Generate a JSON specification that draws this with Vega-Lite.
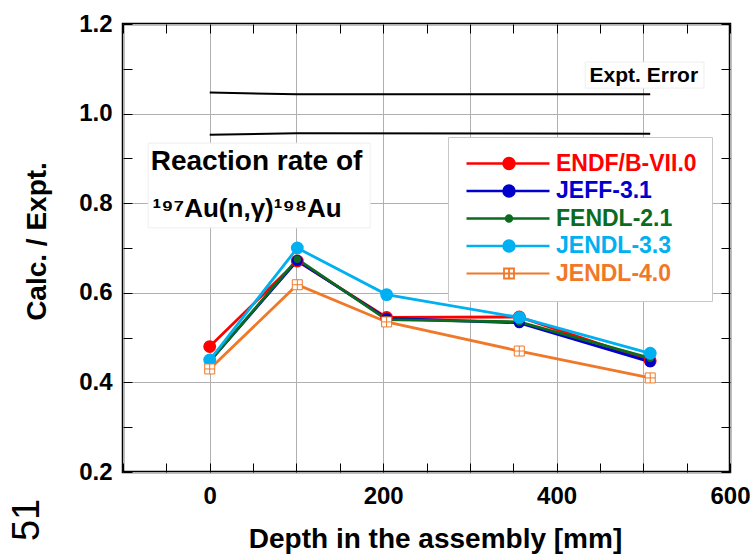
{
  "$schema": "https://vega.github.io/schema/vega-lite/v6.json",
  "width": 607,
  "height": 448,
  "autosize": {"type": "none"},
  "padding": {"left": 123, "top": 24, "right": 22, "bottom": 87},
  "background": "white",
  "config": {
    "view": {"stroke": "black", "strokeWidth": 2.5},
    "font": "Liberation Sans"
  },
  "datasets": {
    "main": [
      {"series": "ENDF/B-VII.0", "x": 0, "y": 0.480},
      {"series": "ENDF/B-VII.0", "x": 101, "y": 0.671},
      {"series": "ENDF/B-VII.0", "x": 204, "y": 0.545},
      {"series": "ENDF/B-VII.0", "x": 357, "y": 0.546},
      {"series": "ENDF/B-VII.0", "x": 508, "y": 0.448},
      {"series": "JEFF-3.1", "x": 0, "y": 0.447},
      {"series": "JEFF-3.1", "x": 101, "y": 0.672},
      {"series": "JEFF-3.1", "x": 204, "y": 0.543},
      {"series": "JEFF-3.1", "x": 357, "y": 0.533},
      {"series": "JEFF-3.1", "x": 508, "y": 0.446},
      {"series": "FENDL-2.1", "x": 0, "y": 0.447},
      {"series": "FENDL-2.1", "x": 101, "y": 0.675},
      {"series": "FENDL-2.1", "x": 204, "y": 0.540},
      {"series": "FENDL-2.1", "x": 357, "y": 0.535},
      {"series": "FENDL-2.1", "x": 508, "y": 0.454},
      {"series": "JENDL-3.3", "x": 0, "y": 0.450},
      {"series": "JENDL-3.3", "x": 101, "y": 0.700},
      {"series": "JENDL-3.3", "x": 204, "y": 0.596},
      {"series": "JENDL-3.3", "x": 357, "y": 0.545},
      {"series": "JENDL-3.3", "x": 508, "y": 0.465},
      {"series": "JENDL-4.0", "x": 0, "y": 0.430},
      {"series": "JENDL-4.0", "x": 101, "y": 0.618},
      {"series": "JENDL-4.0", "x": 204, "y": 0.535},
      {"series": "JENDL-4.0", "x": 357, "y": 0.470},
      {"series": "JENDL-4.0", "x": 508, "y": 0.410}
    ],
    "err": [
      {"bound": "upper", "x": 0, "y": 1.047},
      {"bound": "upper", "x": 100, "y": 1.043},
      {"bound": "upper", "x": 508, "y": 1.043},
      {"bound": "lower", "x": 0, "y": 0.953},
      {"bound": "lower", "x": 100, "y": 0.956},
      {"bound": "lower", "x": 508, "y": 0.955}
    ],
    "labels": [
      {"t": "label"}
    ]
  },
  "resolve": {"axis": {"x": "independent", "y": "independent"}},
  "layer": [
    {
      "data": {"name": "labels"},
      "mark": {"type": "rect", "fill": "white", "stroke": "#eeeeee", "strokeWidth": 1},
      "encoding": {
        "x": {
          "datum": -71, "type": "quantitative",
          "scale": {"domain": [-100, 600], "nice": false, "zero": false},
          "axis": {
            "orient": "bottom",
            "offset": -9,
            "values": [-100, -50, 0, 50, 100, 150, 200, 250, 300, 350, 400, 450, 500, 550, 600],
            "labelExpr": "datum.value % 200 === 0 ? datum.label : ''",
            "labelFont": "Liberation Sans",
            "labelFontWeight": "bold",
            "labelFontSize": 24,
            "labelColor": "black",
            "labelPadding": 12,
            "labelFlush": false,
            "labelOverlap": false,
            "domain": false,
            "grid": true,
            "gridColor": "#b0b0b0",
            "gridWidth": 1,
            "gridOpacity": {"expr": "datum.value % 100 === 0 ? 1 : 0"},
            "ticks": true,
            "tickSize": 9,
            "tickColor": "black",
            "tickWidth": 1,
            "title": "Depth in the assembly [mm]",
            "titleFont": "Liberation Sans",
            "titleFontWeight": "bold",
            "titleFontSize": 28,
            "titleColor": "black",
            "titleX": 312,
            "titleY": 84,
            "titleAlign": "center",
            "titleBaseline": "alphabetic"
          }
        },
        "x2": {"datum": 185},
        "y": {
          "datum": 0.934, "type": "quantitative",
          "scale": {"domain": [0.2, 1.2], "nice": false, "zero": false},
          "axis": {
            "orient": "left",
            "offset": -9,
            "values": [0.2, 0.3, 0.4, 0.5, 0.6, 0.7, 0.8, 0.9, 1.0, 1.1, 1.2],
            "labelExpr": "round(datum.value * 10) % 2 === 0 ? format(datum.value, '.1f') : ''",
            "labelFont": "Liberation Sans",
            "labelFontWeight": "bold",
            "labelFontSize": 24,
            "labelColor": "black",
            "labelPadding": 11,
            "labelFlush": false,
            "labelOverlap": false,
            "domain": false,
            "grid": true,
            "gridColor": "#b0b0b0",
            "gridWidth": 1,
            "gridOpacity": {"expr": "round(datum.value * 10) % 2 === 0 ? 1 : 0"},
            "ticks": true,
            "tickSize": 9,
            "tickColor": "black",
            "tickWidth": 1,
            "title": "Calc. / Expt.",
            "titleFont": "Liberation Sans",
            "titleFontWeight": "bold",
            "titleFontSize": 28,
            "titleColor": "black",
            "titleX": -87,
            "titleY": 217,
            "titleAngle": -90,
            "titleAlign": "center",
            "titleBaseline": "alphabetic"
          }
        },
        "y2": {"datum": 0.745}
      }
    },
    {
      "data": {"name": "err"},
      "mark": {"type": "line", "color": "black", "strokeWidth": 2},
      "encoding": {
        "x": {
          "field": "x", "type": "quantitative",
          "axis": {
            "orient": "top",
            "offset": -9,
            "values": [-100, -50, 0, 50, 100, 150, 200, 250, 300, 350, 400, 450, 500, 550, 600],
            "labels": false, "domain": false, "grid": false,
            "ticks": true, "tickSize": 9, "tickColor": "black", "tickWidth": 1,
            "title": null
          }
        },
        "y": {
          "field": "y", "type": "quantitative",
          "axis": {
            "orient": "right",
            "offset": -9,
            "values": [0.2, 0.3, 0.4, 0.5, 0.6, 0.7, 0.8, 0.9, 1.0, 1.1, 1.2],
            "labels": false, "domain": false, "grid": false,
            "ticks": true, "tickSize": 9, "tickColor": "black", "tickWidth": 1,
            "title": null
          }
        },
        "detail": {"field": "bound", "type": "nominal"}
      }
    },
    {
      "data": {"name": "labels"},
      "mark": {"type": "rect", "fill": "white", "stroke": "#eeeeee", "strokeWidth": 1},
      "encoding": {
        "x": {"datum": 433, "type": "quantitative", "axis": null},
        "x2": {"datum": 570},
        "y": {"datum": 1.115, "type": "quantitative", "axis": null},
        "y2": {"datum": 1.057}
      }
    },
    {
      "data": {"name": "main"},
      "mark": {"type": "line", "strokeWidth": 2.8},
      "encoding": {
        "x": {"field": "x", "type": "quantitative", "axis": null},
        "y": {"field": "y", "type": "quantitative", "axis": null},
        "color": {
          "field": "series", "type": "nominal",
          "scale": {
            "domain": ["ENDF/B-VII.0", "JEFF-3.1", "FENDL-2.1", "JENDL-3.3", "JENDL-4.0"],
            "range": ["#ff0000", "#0000cc", "#0b6b1e", "#00b0f0", "#f07828"]
          },
          "legend": {
            "orient": "none",
            "legendX": 325,
            "legendY": 113,
            "title": null,
            "padding": 15,
            "strokeColor": "#c8c8c8",
            "fillColor": "white",
            "symbolSize": 400,
            "symbolStrokeWidth": 2.5,
            "labelFont": "Liberation Sans",
            "labelFontWeight": "bold",
            "labelFontSize": 23,
            "labelOffset": 70,
            "rowPadding": 3.5,
            "encode": {
              "symbols": {
                "update": {
                  "shape": {"signal": "datum.value === 'FENDL-2.1' ? 'M-0.8,0H7.5M3.15,0A0.3,0.3,0,1,0,3.75,0A0.3,0.3,0,1,0,3.15,0Z' : datum.value === 'JENDL-4.0' ? 'M-0.8,0H2.95M3.95,0H7.5M2.95,-0.5H3.95V0.5H2.95ZM3.45,-0.5V0.5M2.95,0H3.95' : 'M-0.8,0H7.5M2.9,0A0.55,0.55,0,1,0,4.0,0A0.55,0.55,0,1,0,2.9,0Z'"},
                  "size": {"value": 400},
                  "fill": {"signal": "datum.value === 'JENDL-4.0' ? 'white' : scale('color', datum.value)"},
                  "fillOpacity": {"value": 1},
                  "stroke": {"signal": "scale('color', datum.value)"},
                  "strokeOpacity": {"value": 1},
                  "strokeWidth": {"signal": "datum.value === 'JENDL-4.0' ? 1.8 : 2.5"}
                }
              },
              "labels": {
                "update": {
                  "fill": {"signal": "scale('color', datum.value)"}
                }
              }
            }
          }
        }
      }
    },
    {
      "data": {"name": "main"},
      "transform": [{"filter": {"field": "series", "equal": "ENDF/B-VII.0"}}],
      "mark": {"type": "point", "shape": "circle", "filled": true, "size": 165, "color": "#ff0000", "opacity": 1},
      "encoding": {
        "x": {"field": "x", "type": "quantitative", "axis": null},
        "y": {"field": "y", "type": "quantitative", "axis": null}
      }
    },
    {
      "data": {"name": "main"},
      "transform": [{"filter": {"field": "series", "equal": "JEFF-3.1"}}],
      "mark": {"type": "point", "shape": "circle", "filled": true, "size": 120, "color": "#0000cc", "opacity": 1},
      "encoding": {
        "x": {"field": "x", "type": "quantitative", "axis": null},
        "y": {"field": "y", "type": "quantitative", "axis": null}
      }
    },
    {
      "data": {"name": "main"},
      "transform": [{"filter": {"field": "series", "equal": "FENDL-2.1"}}],
      "mark": {"type": "point", "shape": "circle", "filled": true, "size": 55, "color": "#0b6b1e", "opacity": 1},
      "encoding": {
        "x": {"field": "x", "type": "quantitative", "axis": null},
        "y": {"field": "y", "type": "quantitative", "axis": null}
      }
    },
    {
      "data": {"name": "main"},
      "transform": [{"filter": {"field": "series", "equal": "JENDL-3.3"}}],
      "mark": {"type": "point", "shape": "circle", "filled": true, "size": 165, "color": "#00b0f0", "opacity": 1},
      "encoding": {
        "x": {"field": "x", "type": "quantitative", "axis": null},
        "y": {"field": "y", "type": "quantitative", "axis": null}
      }
    },
    {
      "data": {"name": "main"},
      "transform": [{"filter": {"field": "series", "equal": "JENDL-4.0"}}],
      "mark": {"type": "point", "shape": "M-1,-1H1V1H-1ZM0,-1V1M-1,0H1", "filled": false, "size": 100, "fill": "white", "fillOpacity": 1, "stroke": "#f07828", "strokeWidth": 1, "opacity": 1},
      "encoding": {
        "x": {"field": "x", "type": "quantitative", "axis": null},
        "y": {"field": "y", "type": "quantitative", "axis": null}
      }
    },
    {
      "data": {"name": "labels"},
      "mark": {"type": "text", "align": "left", "baseline": "alphabetic", "font": "Liberation Sans", "fontWeight": "bold", "fontSize": 28, "color": "black"},
      "encoding": {
        "x": {"datum": -68, "type": "quantitative", "axis": null},
        "y": {"datum": 0.874, "type": "quantitative", "axis": null},
        "text": {"value": "Reaction rate of"}
      }
    },
    {
      "data": {"name": "labels"},
      "mark": {"type": "text", "align": "left", "baseline": "alphabetic", "font": "Liberation Sans", "fontWeight": "bold", "fontSize": 26, "color": "black"},
      "encoding": {
        "x": {"datum": -66, "type": "quantitative", "axis": null},
        "y": {"datum": 0.769, "type": "quantitative", "axis": null},
        "text": {"value": "¹⁹⁷Au(n,γ)¹⁹⁸Au"}
      }
    },
    {
      "data": {"name": "labels"},
      "mark": {"type": "text", "align": "left", "baseline": "alphabetic", "font": "Liberation Sans", "fontWeight": "bold", "fontSize": 21, "color": "black"},
      "encoding": {
        "x": {"datum": 438, "type": "quantitative", "axis": null},
        "y": {"datum": 1.071, "type": "quantitative", "axis": null},
        "text": {"value": "Expt. Error"}
      }
    },
    {
      "data": {"name": "labels"},
      "mark": {"type": "text", "align": "center", "baseline": "middle", "angle": 270, "font": "Liberation Sans", "fontSize": 38, "color": "black", "clip": false},
      "encoding": {
        "x": {"datum": -210, "type": "quantitative", "axis": null},
        "y": {"datum": 0.093, "type": "quantitative", "axis": null},
        "text": {"value": "51"}
      }
    }
  ]
}
